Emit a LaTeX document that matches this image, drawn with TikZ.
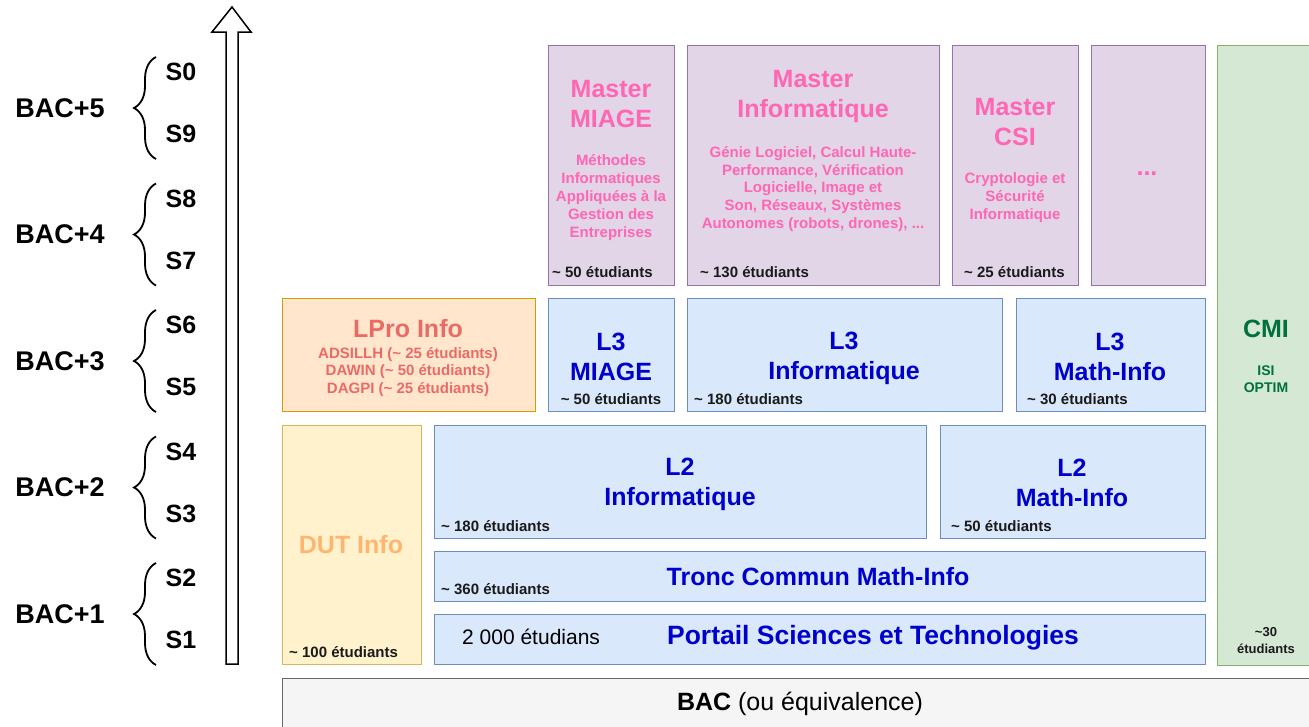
\documentclass[tikz,border=0pt]{standalone}
\usepackage{fontspec}
\setmainfont{Liberation Sans}
\usetikzlibrary{decorations.pathreplacing}

\definecolor{mfill}{HTML}{E1D5E7}
\definecolor{mdraw}{HTML}{9673A6}
\definecolor{lfill}{HTML}{DAE8FC}
\definecolor{ldraw}{HTML}{6C8EBF}
\definecolor{gfill}{HTML}{D5E8D4}
\definecolor{gdraw}{HTML}{82B366}
\definecolor{ofill}{HTML}{FFE6CC}
\definecolor{odraw}{HTML}{D79B00}
\definecolor{yfill}{HTML}{FFF2CC}
\definecolor{ydraw}{HTML}{D6B656}
\definecolor{bfill}{HTML}{F5F5F5}
\definecolor{bdraw}{HTML}{666666}
\definecolor{pinktext}{HTML}{FF66B3}
\definecolor{bluetext}{HTML}{0000CC}
\definecolor{greentext}{HTML}{00703C}
\definecolor{redtext}{HTML}{EA6B66}
\definecolor{dutext}{HTML}{FFB570}
\definecolor{counttext}{HTML}{1A1A1A}

\begin{document}
\begin{tikzpicture}[
    x=1pt, y=-1pt,
    box/.style={rectangle, draw, line width=1pt, inner sep=0pt},
    mbox/.style={box, fill=mfill, draw=mdraw},
    lbox/.style={box, fill=lfill, draw=ldraw},
    title/.style={font=\bfseries\fontsize{25}{30}\selectfont, align=center, inner sep=0pt},
    sub/.style={font=\bfseries\fontsize{15}{17.8}\selectfont, align=center, inner sep=0pt},
    count/.style={font=\bfseries\fontsize{15}{17}\selectfont, text=counttext, anchor=west, inner sep=0pt},
    level/.style={font=\bfseries\fontsize{27}{30}\selectfont, inner sep=0pt},
    sem/.style={font=\bfseries\fontsize{25}{30}\selectfont, inner sep=0pt},
    curly/.style={decorate, decoration={brace, amplitude=22pt}, line width=1.8pt}
]
\useasboundingbox (0,0) rectangle (1309,726);

% Time axis
\draw[line width=1.5pt, fill=white] (226,664) -- (226,32) -- (212,32) -- (232,7)
    -- (251,32) -- (238,32) -- (238,664) -- cycle;

% Levels and semesters
\foreach \n/\a/\b [count=\i from 0] in {5/0/9, 4/8/7, 3/6/5, 2/4/3, 1/2/1} {
    \node[level] (lvl\n) at (60,108+\i*126.5) {BAC+\n};
    \draw[curly] (156,159+\i*126.5) -- (156,57+\i*126.5);
    \node[sem] (sem\a) at (181,72+\i*126.5) {S\a};
    \node[sem] (sem\b) at (181,134+\i*126.5) {S\b};
}

% Masters
\node[mbox, minimum width=126pt, minimum height=240pt] (mmiage) at (611,165) {};
\node[title, text=pinktext] (mmiaget) at (611,104) {Master\\MIAGE};
\node[sub, text=pinktext] (mmiages) at (611,197.5) {Méthodes\\Informatiques\\Appliquées à la\\Gestion des\\Entreprises};
\node[count] (mmiagen) at (552,272) {\textasciitilde{} 50 étudiants};

\node[mbox, minimum width=252pt, minimum height=240pt] (minfo) at (813,165) {};
\node[title, text=pinktext] (minfot) at (813,96) {Master\\Informatique};
\node[sub, text=pinktext] (minfos) at (813,189) {Génie Logiciel, Calcul Haute-\\Performance, Vérification\\Logicielle, Image et\\Son, Réseaux, Systèmes\\Autonomes (robots, drones), ...};
\node[count] (minfon) at (700,272) {\textasciitilde{} 130 étudiants};

\node[mbox, minimum width=126pt, minimum height=240pt] (mcsi) at (1015,165) {};
\node[title, text=pinktext] (mcsit) at (1015,122) {Master\\CSI};
\node[sub, text=pinktext] (mcsis) at (1015,197.5) {Cryptologie et\\Sécurité\\Informatique};
\node[count] (mcsin) at (964,272) {\textasciitilde{} 25 étudiants};

\node[mbox, minimum width=114pt, minimum height=240pt] (mdots) at (1148,165) {};
\node[title, text=pinktext] (mdotst) at (1147,174) {...};

% CMI
\node[box, fill=gfill, draw=gdraw, minimum width=98pt, minimum height=620pt] (cmi) at (1266,355) {};
\node[title, text=greentext] (cmit) at (1266,329) {CMI};
\node[sub, text=greentext, font=\bfseries\fontsize{14}{17}\selectfont] (cmis) at (1266,379) {ISI\\OPTIM};
\node[sub, text=counttext, font=\bfseries\fontsize{13}{17}\selectfont] (cmin) at (1266,641) {\textasciitilde30\\étudiants};

% Third year
\node[box, fill=ofill, draw=odraw, minimum width=253pt, minimum height=113pt] (lpro) at (408.5,354.5) {};
\node[title, text=redtext] (lprot) at (408,329) {LPro Info};
\node[sub, text=redtext] (lpros) at (408,372) {ADSILLH (\textasciitilde{} 25 étudiants)\\DAWIN (\textasciitilde{} 50 étudiants)\\DAGPI (\textasciitilde{} 25 étudiants)};

\node[lbox, minimum width=126pt, minimum height=113pt] (lmiage) at (611,354.5) {};
\node[title, text=bluetext] (lmiaget) at (611,357) {L3\\MIAGE};
\node[count, anchor=center] (lmiagen) at (611,399) {\textasciitilde{} 50 étudiants};

\node[lbox, minimum width=315pt, minimum height=113pt] (linfo) at (844.5,354.5) {};
\node[title, text=bluetext] (linfot) at (844,358) {L3\\Informatique};
\node[count] (linfon) at (694,399) {\textasciitilde{} 180 étudiants};

\node[lbox, minimum width=189pt, minimum height=113pt] (lmi) at (1110.5,354.5) {};
\node[title, text=bluetext] (lmit) at (1110,357) {L3\\Math-Info};
\node[count] (lmin) at (1027,399) {\textasciitilde{} 30 étudiants};

% DUT
\node[box, fill=yfill, draw=ydraw, minimum width=139pt, minimum height=239pt] (dut) at (351.5,544.5) {};
\node[title, text=dutext] (dutt) at (351,545) {DUT Info};
\node[count] (dutn) at (289,652) {\textasciitilde{} 100 étudiants};

% Second year
\node[lbox, minimum width=492pt, minimum height=113pt] (ltinfo) at (680,481.5) {};
\node[title, text=bluetext] (ltinfot) at (680,484) {L2\\Informatique};
\node[count] (ltinfon) at (441,526) {\textasciitilde{} 180 étudiants};

\node[lbox, minimum width=265pt, minimum height=113pt] (ltmi) at (1072.5,481.5) {};
\node[title, text=bluetext] (ltmit) at (1072,483) {L2\\Math-Info};
\node[count] (ltmin) at (951,526) {\textasciitilde{} 50 étudiants};

% First year
\node[lbox, minimum width=771pt, minimum height=50pt] (tronc) at (819.5,576) {};
\node[title, text=bluetext] (tronct) at (818,577) {Tronc Commun Math-Info};
\node[count] (troncn) at (441,589) {\textasciitilde{} 360 étudiants};

\node[lbox, minimum width=771pt, minimum height=50pt] (portail) at (819.5,639) {};
\node[title, text=bluetext, font=\bfseries\fontsize{26.5}{30}\selectfont] (portailt) at (873,638) {Portail Sciences et Technologies};
\node[font=\fontsize{21}{24}\selectfont, anchor=west, inner sep=0pt] (portailn) at (462,637) {2 000 étudians};

% BAC
\node[box, fill=bfill, draw=bdraw, minimum width=1033pt, minimum height=54pt] (bac) at (798.5,705) {};
\node[font=\fontsize{25}{28}\selectfont, inner sep=0pt] (bact) at (800,704) {\textbf{BAC} (ou équivalence)};

\end{tikzpicture}
\end{document}
